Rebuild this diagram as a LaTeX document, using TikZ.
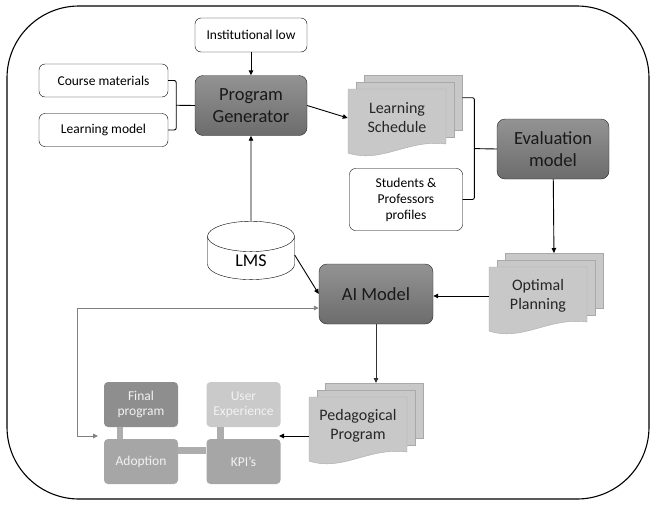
\documentclass[tikz,border=0pt]{standalone}
\usepackage{fontspec}
\setmainfont{Carlito}
\usetikzlibrary{arrows.meta,calc,shapes.geometric}

\definecolor{boxtop}{HTML}{939393}
\definecolor{boxbot}{HTML}{6C6C6C}
\definecolor{pagefill}{HTML}{C8C8C8}
\definecolor{pageline}{HTML}{A9A9A9}
\definecolor{kpidark}{HTML}{8E8E8E}
\definecolor{kpimid}{HTML}{A6A6A6}
\definecolor{kpilight}{HTML}{CACACA}
\definecolor{barcol}{HTML}{ADADAD}

%% stack of three pages: name, x, y of the front page (top left), text
\newcommand\docstack[4]{%
  \node[page, anchor=north west] (#1-b) at (#2+16,#3-14) {};
  \node[page, anchor=north west] (#1-m) at (#2+8,#3-7) {};
  \draw[pagefront] (#2,#3) -- (#2+98,#3) -- (#2+98,#3+55)
    .. controls (#2+59,#3+50) and (#2+34,#3+75) .. (#2,#3+64) -- cycle;
  \node[doctext] (#1) at (#2+49,#3+29) {#4};
}

\begin{document}
\begin{tikzpicture}[x=1pt, y=-1pt,
  %% style definitions
  wbox/.style  = {draw, rounded corners=6pt, fill=white, align=center,
                  font=\fontsize{13.5}{16}\selectfont, inner sep=1pt},
  dbox/.style  = {draw=black!85, rounded corners=8pt, top color=boxtop,
                  bottom color=boxbot, minimum width=112pt, minimum height=60pt,
                  align=center, text=black!90,
                  font=\fontsize{18.5}{22}\selectfont},
  page/.style  = {draw=pageline, fill=pagefill, minimum width=98pt,
                  minimum height=55pt, inner sep=0pt},
  pagefront/.style = {draw=pageline, fill=pagefill},
  doctext/.style = {minimum width=98pt, minimum height=58pt, inner sep=0pt,
                  align=center, text=black!85,
                  font=\fontsize{16}{19}\selectfont},
  cyl/.style   = {cylinder, shape border rotate=90, draw, fill=white,
                  minimum width=87pt, minimum height=55pt, aspect=0.8,
                  font=\fontsize{18}{20}\selectfont},
  kbox/.style  = {rounded corners=4pt, text=white!95!black, align=center,
                  minimum width=74pt, minimum height=45pt, inner sep=0pt,
                  font=\fontsize{13.5}{15}\selectfont},
  arr/.style   = {-{Triangle[length=5pt,width=4.5pt]}, line width=0.9pt},
  fb/.style    = {{Triangle[length=5pt,width=4.5pt]}-{Triangle[length=5pt,width=4.5pt]},
                  line width=0.9pt, draw=black!50},
  brace/.style = {line width=0.9pt, rounded corners=2pt},
  bar/.style   = {draw=barcol, line width=6.5pt},
]
\useasboundingbox (0,0) rectangle (651,504);

%% ── Frame ──────────────────────────────────────────────────────────────────
\draw[line width=1.1pt, rounded corners=72pt] (7,6) rectangle (649,499);

%% ── Program generation ─────────────────────────────────────────────────────
\node[wbox, minimum width=112pt, minimum height=34pt] (inst) at (251,35)
  {Institutional low};
\node[wbox, minimum width=129pt, minimum height=33pt] (cm) at (103.5,80.5)
  {Course materials};
\node[wbox, minimum width=129pt, minimum height=33pt] (lm) at (103.5,130)
  {Learning model};
\node[dbox] (pg) at (251,105.5) {Program\\Generator};

\draw[arr] (inst) -- (pg);
\draw[brace] (cm.east) -- ++(8,0) |- (lm.east);
\draw[brace] ($(cm.east)!.5!(lm.east)+(8,0)$) -- (pg.west);

%% ── Schedule and evaluation ────────────────────────────────────────────────
\docstack{ls}{348}{89}{Learning\\Schedule}
\node[wbox, minimum width=113pt, minimum height=62pt] (stud) at (406,199.5)
  {Students \&\\Professors\\profiles};
\node[dbox] (eval) at (553,149) {Evaluation\\model};

\draw[arr] (pg.east) -- (ls.west);
\coordinate (lsb) at ($(ls-b.east)+(0,-5)$);
\draw[brace] (lsb) -- ++(12,0) |- (stud.east);
\draw[brace] ($(lsb)!.5!(stud.east)+(12,0)$) -- (eval.west);

%% ── LMS and AI model ───────────────────────────────────────────────────────
\node[cyl] (lms) at (251,261) {LMS};
\node[dbox, minimum width=114pt] (ai) at (376,294) {AI Model};
\docstack{op}{489}{267}{Optimal\\Planning}

\draw[arr] (lms) -- (pg);
\draw[arr] ($(lms.east)+(0,-6)$) -- (ai.west);
\draw[arr] (eval) -- (op-b);
\draw[arr] (op.west) -- (op.west -| ai.east);

%% ── Pedagogical program and KPI's ──────────────────────────────────────────
\docstack{pp}{309}{397}{Pedagogical\\Program}
\node[kbox, fill=kpidark]  (fp)  at (141,404.5)   {Final\\program};
\node[kbox, fill=kpilight] (ux)  at (243.5,404.5) {User\\Experience};
\node[kbox, fill=kpimid]   (ad)  at (141,461.5)   {Adoption};
\node[kbox, fill=kpimid]   (kpi) at (243.5,461.5) {KPI’s};

\draw[bar] ([xshift=-21pt]fp.south) -- ([xshift=-21pt]ad.north);
\draw[bar] ([xshift=-23pt]ux.south) -- ([xshift=-23pt]kpi.north);
\draw[bar] ([yshift=11pt]ad.east) -- ([yshift=11pt]kpi.west);

\coordinate (kin)  at (279,436);
\coordinate (fbin) at (98,436);
\draw[arr, draw=black!80] (ai.south) -- (ai.south |- pp-b.north);
\draw[arr] (pp.west |- kin) -- (kin);
\draw[fb] ($(ai.west)+(0,14)$) -- ++(-241,0) |- (fbin);

\end{tikzpicture}
\end{document}
